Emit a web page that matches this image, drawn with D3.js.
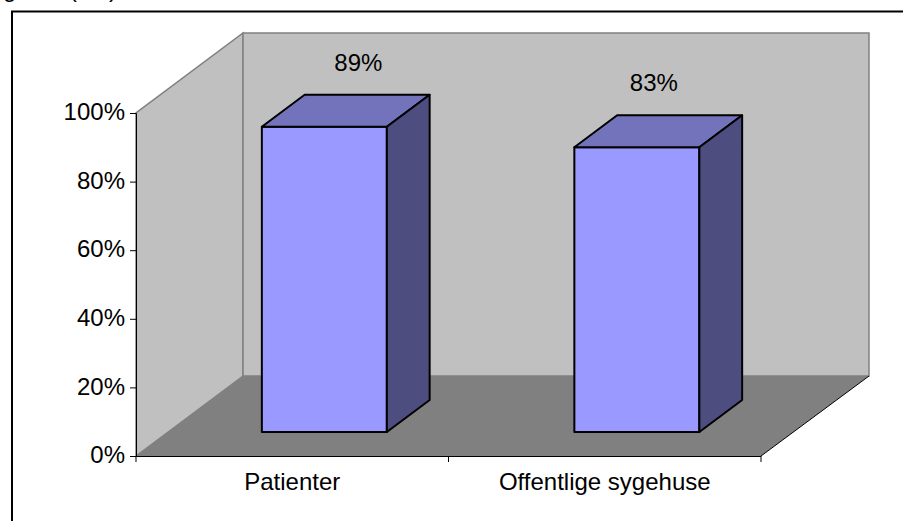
<!DOCTYPE html>
<html>
<head>
<meta charset="utf-8">
<script src="https://cdn.jsdelivr.net/npm/d3@7"></script>
<style>
  body { margin: 0; background: #fff; }
  svg { display: block; }
  text { font-family: "Liberation Sans", Arial, sans-serif; fill: #000; }
</style>
</head>
<body>
<svg class="chart" width="903" height="521"></svg>
<script>
const categories = ["Patienter", "Offentlige sygehuse"];
const values = [89, 83];
const yTicks = [0, 20, 40, 60, 80, 100];

const svg = d3.select(".chart");

// plot box of the front plane, the walls are pushed back by depthX/depthY
const x0 = 136, x1 = 761, y0 = 456, y1 = 113;
const depthX = 107, depthY = 80;
const fontSize = 24;

const x = d3.scaleBand().domain(categories).range([x0, x1]).paddingInner(0.6).paddingOuter(0.3);
const y = d3.scaleLinear().domain([0, 100]).range([y0, y1]);

const line = d3.line();

// the caption above the frame is cut off by the picture edge, only descenders show
svg.selectAll(".caption")
  .data([["g", 3], ["(", 69], [")", 109]])
  .join("text")
  .attr("class", "caption")
  .attr("x", d => d[1])
  .attr("y", -3)
  .attr("font-size", fontSize)
  .text(d => d[0]);

// outer frame, only top and left are inside the picture
svg.append("path")
  .attr("d", line([[12, 521], [12, 11.5], [903, 11.5]]))
  .attr("fill", "none")
  .attr("stroke", "#000")
  .attr("stroke-width", 2);

// walls
svg.append("path")
  .attr("d", line([[x0, y0], [x0, y1], [x0 + depthX, y1 - depthY], [x0 + depthX, y0 - depthY]]) + "Z")
  .attr("fill", "#c0c0c0")
  .attr("stroke", "#808080")
  .attr("stroke-width", 1.5);

svg.append("path")
  .attr("d", line([[x0 + depthX, y0 - depthY], [x0 + depthX, y1 - depthY], [x1 + depthX + 1, y1 - depthY], [x1 + depthX + 1, y0 - depthY]]) + "Z")
  .attr("fill", "#c0c0c0")
  .attr("stroke", "#808080")
  .attr("stroke-width", 1.5);

// floor
svg.append("path")
  .attr("d", line([[x0, y0], [x0 + depthX, y0 - depthY], [x1 + depthX + 1, y0 - depthY], [x1, y0]]) + "Z")
  .attr("fill", "#808080");

// axes
const yAxis = svg.append("g")
  .attr("transform", `translate(${x0},0)`)
  .call(d3.axisLeft(y).tickValues(yTicks).tickFormat(d => d + "%").tickSize(6).tickPadding(5));
yAxis.selectAll("text").attr("font-size", fontSize).attr("font-family", null).attr("dy", "0.28em");
yAxis.selectAll("line, path").attr("stroke", "#000");

const xAxis = svg.append("g")
  .attr("transform", `translate(0,${y0})`);
xAxis.append("path")
  .attr("d", line([[x0, 0.5], [x1, 0.5]]))
  .attr("stroke", "#000");
xAxis.selectAll("line")
  .data([x0, (x0 + x1) / 2, x1])
  .join("line")
  .attr("x1", d => d).attr("x2", d => d)
  .attr("y1", 0).attr("y2", 6)
  .attr("stroke", "#000");
xAxis.append("path")
  .attr("d", line([[x1, 0], [x1 + depthX + 1, -depthY]]))
  .attr("stroke", "#000");
xAxis.selectAll("text")
  .data(categories)
  .join("text")
  .attr("x", d => x(d) + x.bandwidth() / 2)
  .attr("y", 34)
  .attr("text-anchor", "middle")
  .attr("font-size", fontSize)
  .text(d => d);

// bars stand 30% into the floor depth and take 40% of it
const frontX = depthX * 0.3, frontY = depthY * 0.3;
const barDX = depthX * 0.4, barDY = depthY * 0.4;

const barData = categories.map((c, i) => ({ name: c, value: values[i] }));

const bars = svg.selectAll(".bar")
  .data(barData)
  .join("g")
  .attr("class", "bar")
  .attr("stroke", "#000")
  .attr("stroke-width", 2)
  .attr("stroke-linejoin", "round");

const barLeft = d => x(d.name) + frontX;
const barRight = d => barLeft(d) + x.bandwidth();
const barBottom = y0 - frontY;
const barTop = d => barBottom - (y0 - y(d.value));

bars.append("path")
  .attr("fill", "#9999ff")
  .attr("d", d => line([[barLeft(d), barBottom], [barLeft(d), barTop(d)], [barRight(d), barTop(d)], [barRight(d), barBottom]]) + "Z");

bars.append("path")
  .attr("fill", "#7373bb")
  .attr("d", d => line([[barLeft(d), barTop(d)], [barLeft(d) + barDX, barTop(d) - barDY], [barRight(d) + barDX, barTop(d) - barDY], [barRight(d), barTop(d)]]) + "Z");

bars.append("path")
  .attr("fill", "#4d4d7f")
  .attr("d", d => line([[barRight(d), barBottom], [barRight(d), barTop(d)], [barRight(d) + barDX, barTop(d) - barDY], [barRight(d) + barDX, barBottom - barDY]]) + "Z");

// value labels, these were hand placed in the original so the offset differs per bar
svg.selectAll(".value")
  .data(barData)
  .join("text")
  .attr("class", "value")
  .attr("x", (d, i) => barLeft(d) + x.bandwidth() / 2 + (i === 0 ? 34 : 17))
  .attr("y", d => barTop(d) - 56)
  .attr("text-anchor", "middle")
  .attr("font-size", fontSize)
  .text(d => d.value + "%");
</script>
</body>
</html>
